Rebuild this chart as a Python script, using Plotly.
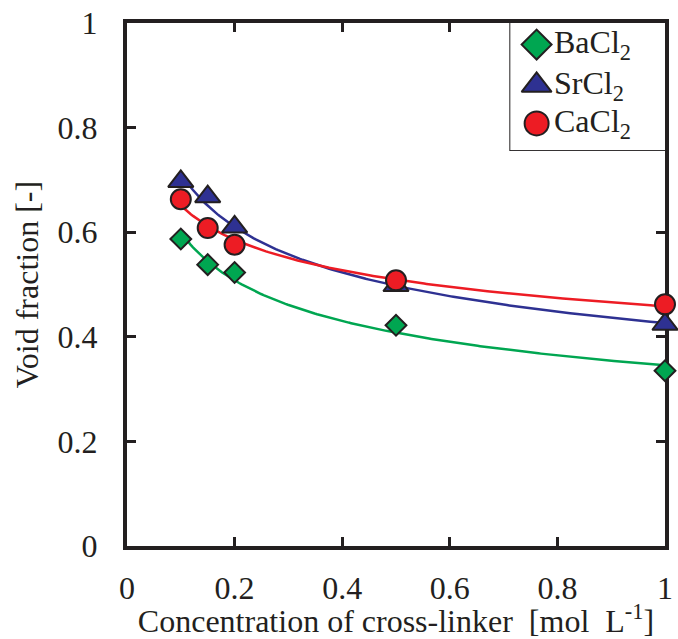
import numpy as np
import plotly.graph_objects as go

conc = [0.1, 0.15, 0.2, 0.5, 1.0]
bacl2 = [0.587, 0.538, 0.523, 0.422, 0.335]
srcl2 = [0.697, 0.668, 0.610, 0.498, 0.424]
cacl2 = [0.663, 0.608, 0.576, 0.508, 0.462]

names = ["BaCl<sub>2</sub>", "SrCl<sub>2</sub>", "CaCl<sub>2</sub>"]
colors = ["#00A651", "#2E3192", "#ED1C24"]
symbols = ["diamond", "triangle-up", "circle"]
sizes = [16, 22, 20]
legend_sizes = [23, 26, 24]
series = [bacl2, srcl2, cacl2]

# legend layout (fractions of the legend box)
LEG_X0, LEG_Y0 = 0.7125, 0.757
legend_rows = [0.83, 0.51, 0.21]
LEG_SYM_X, LEG_TXT_X = 0.17, 0.27

xs = np.array(conc)
xfit = np.linspace(0.1, 1.0, 200)
ink = "#231F20"

fig = go.Figure()
# power-law trend lines fitted to the data
for ys, c in zip(series, colors):
    b, lna = np.polyfit(np.log(xs), np.log(np.array(ys)), 1)
    yfit = np.exp(lna) * xfit ** b
    fig.add_trace(go.Scatter(x=xfit, y=yfit, mode="lines",
                             line=dict(color=c, width=2.5),
                             showlegend=False, hoverinfo="skip"))
for ys, n, c, s, sz in zip(series, names, colors, symbols, sizes):
    fig.add_trace(go.Scatter(x=conc, y=ys, mode="markers", name=n,
                             cliponaxis=False, showlegend=False,
                             marker=dict(symbol=s, size=sz, color=c,
                                         line=dict(color=ink, width=2))))

font = "Liberation Serif, Times New Roman, serif"
FS = 32

# custom legend on an overlay axis
fig.add_shape(type="rect", xref="paper", yref="paper", x0=LEG_X0, x1=1, y0=LEG_Y0, y1=1,
              line=dict(color=ink, width=2), fillcolor="white", layer="below")
for n, c, s, sz, ry in zip(names, colors, symbols, legend_sizes, legend_rows):
    fig.add_trace(go.Scatter(x=[LEG_SYM_X], y=[ry], xaxis="x2", yaxis="y2",
                             mode="markers", showlegend=False, hoverinfo="skip",
                             cliponaxis=False,
                             marker=dict(symbol=s, size=sz, color=c,
                                         line=dict(color=ink, width=2))))
    fig.add_annotation(x=LEG_TXT_X, y=ry, xref="x2", yref="y2", text=n,
                       showarrow=False, xanchor="left", yanchor="middle",
                       font=dict(family=font, size=FS, color=ink))

axis_common = dict(showline=True, linecolor=ink, linewidth=4, mirror="ticks",
                   ticks="inside", ticklen=9, tickwidth=3, tickcolor=ink,
                   showgrid=False, zeroline=False, layer="below traces",
                   tickfont=dict(family=font, size=FS, color=ink),
                   range=[0, 1], dtick=0.2, tickformat="~g")

fig.update_layout(
    width=678, height=639,
    margin=dict(l=127, r=5, t=19, b=93),
    paper_bgcolor="white", plot_bgcolor="white",
    font=dict(family=font, color=ink),
    xaxis=dict(**axis_common, ticklabelstandoff=11,
               title=dict(text="Concentration of cross-linker  [mol  L<sup>-1</sup>]",
                          font=dict(family=font, size=FS, color=ink), standoff=2)),
    yaxis=dict(**axis_common, ticklabelstandoff=19,
               title=dict(text="Void fraction [-]",
                          font=dict(family=font, size=FS, color=ink), standoff=10)),
    xaxis2=dict(domain=[LEG_X0, 1], anchor="y2", range=[0, 1], visible=False, fixedrange=True),
    yaxis2=dict(domain=[LEG_Y0, 1], anchor="x2", range=[0, 1], visible=False, fixedrange=True),
    showlegend=False,
)

fig.write_html("out.html")
